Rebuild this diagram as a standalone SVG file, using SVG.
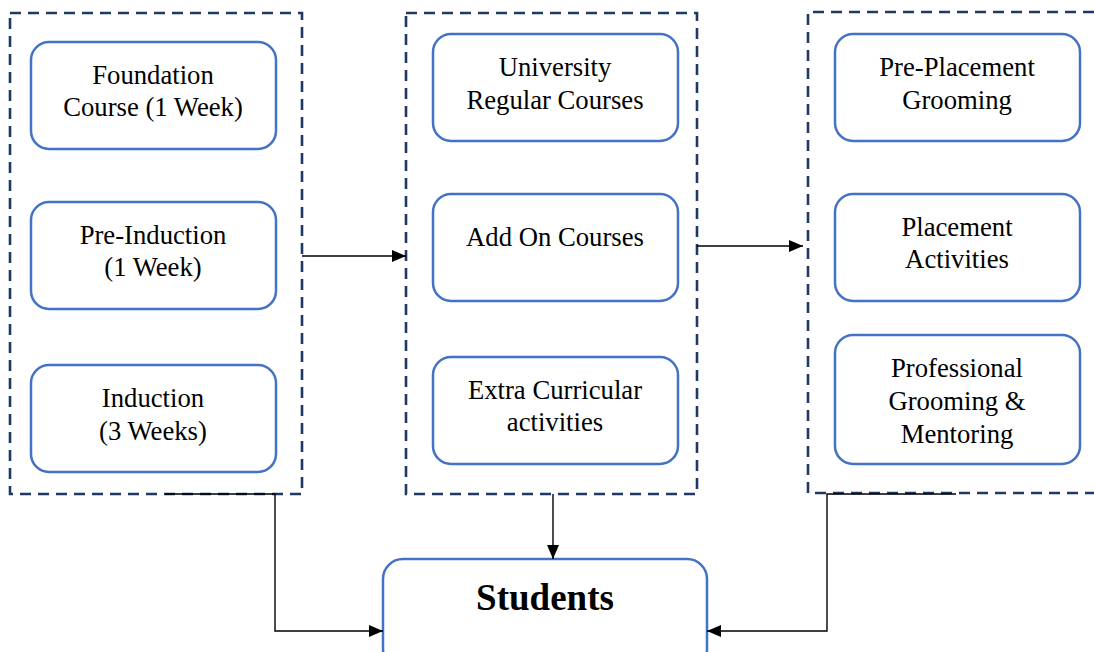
<svg xmlns="http://www.w3.org/2000/svg" width="1094" height="652" viewBox="0 0 1094 652">
<defs>
<marker id="ah" viewBox="0 0 14 12" refX="14" refY="6" markerWidth="14" markerHeight="12" markerUnits="userSpaceOnUse" orient="auto">
<path d="M0,0 L14,6 L0,12 Z" fill="#000"/>
</marker>
<style>
.grp{fill:none;stroke:#1f3864;stroke-width:2.6;stroke-dasharray:11,7}
.box{fill:#fff;stroke:#4472c4;stroke-width:2.5}
text{font-family:'Liberation Serif','Times New Roman',serif;fill:#000;text-anchor:middle}
.t{font-size:26.7px}
.b{font-size:37px;font-weight:bold}
.c{fill:none;stroke:#000;stroke-width:1.4}
</style>
</defs>
<rect width="1094" height="652" fill="#fff"/>
<g id="group-left"><rect class="grp" x="10" y="13" width="292" height="481"/></g>
<g id="group-mid"><rect class="grp" x="406" y="13" width="291" height="481"/></g>
<g id="group-right"><path class="grp" d="M1094,12 H808 V493 H1094"/></g>
<g id="n-foundation"><rect class="box" x="31" y="42" width="245" height="107" rx="18"/><text class="t" x="153" y="84">Foundation</text><text class="t" x="153" y="116">Course (1 Week)</text></g>
<g id="n-preinduction"><rect class="box" x="31" y="202" width="245" height="107" rx="18"/><text class="t" x="153" y="244">Pre-Induction</text><text class="t" x="153" y="276">(1 Week)</text></g>
<g id="n-induction"><rect class="box" x="31" y="365" width="245" height="107" rx="18"/><text class="t" x="153" y="407">Induction</text><text class="t" x="153" y="440">(3 Weeks)</text></g>
<g id="n-university"><rect class="box" x="433" y="34" width="245" height="107" rx="18"/><text class="t" x="555" y="76">University</text><text class="t" x="555" y="109">Regular Courses</text></g>
<g id="n-addon"><rect class="box" x="433" y="194" width="245" height="107" rx="18"/><text class="t" x="555" y="246">Add On Courses</text></g>
<g id="n-extra"><rect class="box" x="433" y="357" width="245" height="107" rx="18"/><text class="t" x="555" y="399">Extra Curricular</text><text class="t" x="555" y="431">activities</text></g>
<g id="n-preplacement"><rect class="box" x="835" y="34" width="245" height="107" rx="18"/><text class="t" x="957" y="76">Pre-Placement</text><text class="t" x="957" y="109">Grooming</text></g>
<g id="n-placement"><rect class="box" x="835" y="194" width="245" height="107" rx="18"/><text class="t" x="957" y="236">Placement</text><text class="t" x="957" y="268">Activities</text></g>
<g id="n-professional"><rect class="box" x="835" y="335" width="245" height="129" rx="18"/><text class="t" x="957" y="377">Professional</text><text class="t" x="957" y="410">Grooming &amp;</text><text class="t" x="957" y="443">Mentoring</text></g>
<g id="n-students"><rect class="box" x="383" y="559" width="324" height="110" rx="20"/><text class="b" x="545" y="610">Students</text></g>
<g id="connectors">
<path class="c" d="M302,256 H406" marker-end="url(#ah)"/>
<path class="c" d="M697,246 H803" marker-end="url(#ah)"/>
<path class="c" d="M553,494 V559" marker-end="url(#ah)"/>
<path class="c" d="M165,494 H275 V631 H383" marker-end="url(#ah)"/>
<path class="c" d="M956,494 H827 V631 H707" marker-end="url(#ah)"/>
</g>
</svg>
